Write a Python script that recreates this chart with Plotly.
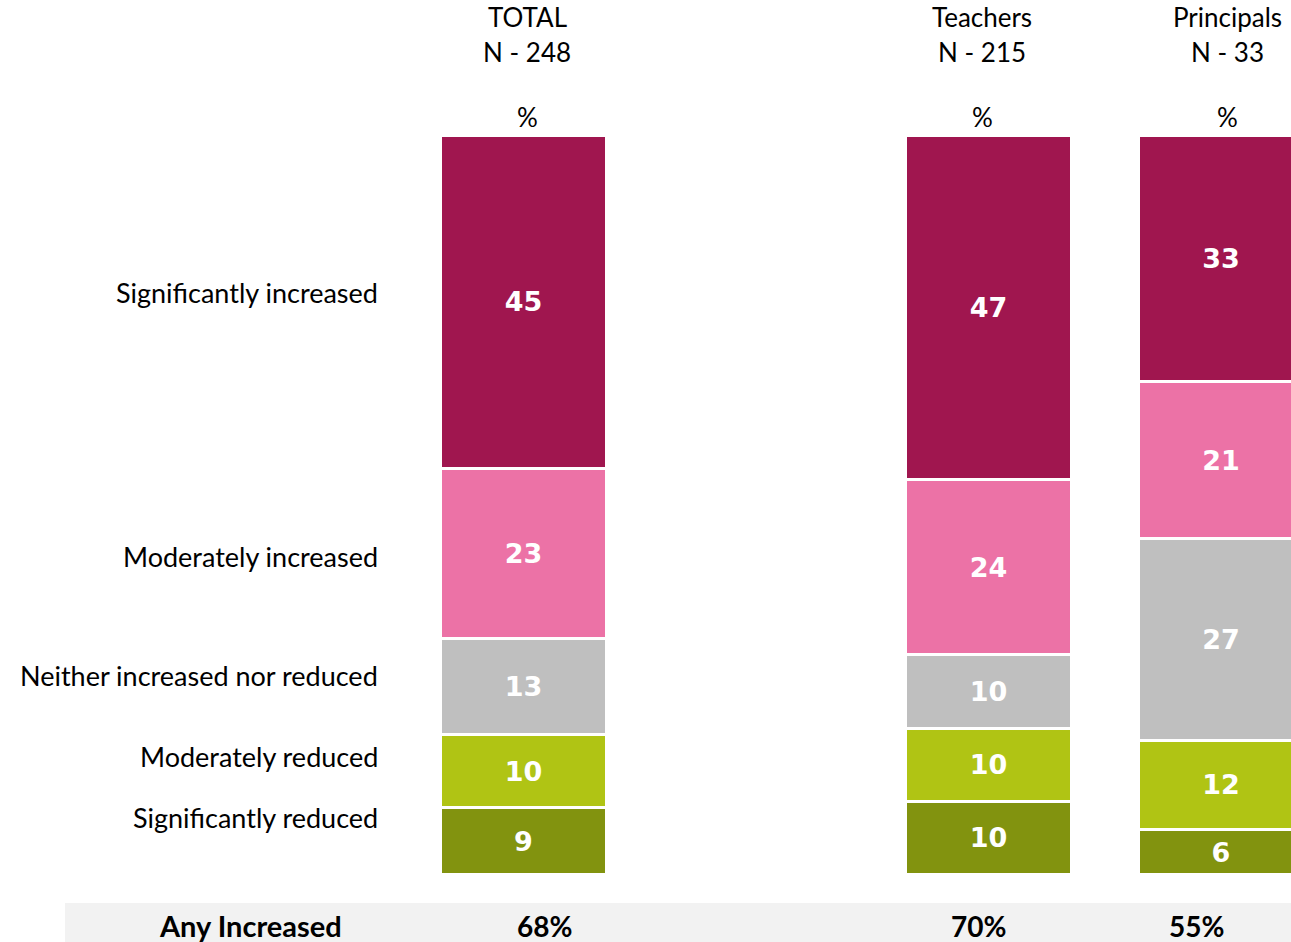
import plotly.graph_objects as go

# ---- data ----
groups = ["TOTAL", "Teachers", "Principals"]
group_n = ["N - 248", "N - 215", "N - 33"]
categories = ["Significantly reduced", "Moderately reduced", "Neither increased nor reduced",
              "Moderately increased", "Significantly increased"]
values = {
    "Significantly reduced": [9, 10, 6],
    "Moderately reduced": [10, 10, 12],
    "Neither increased nor reduced": [13, 10, 27],
    "Moderately increased": [23, 24, 21],
    "Significantly increased": [45, 47, 33],
}
any_increased = ["68%", "70%", "55%"]

# ---- style / layout ----
colors = {
    "Significantly reduced": "#82930F",
    "Moderately reduced": "#B0C414",
    "Neither increased nor reduced": "#BFBFBF",
    "Moderately increased": "#EC72A6",
    "Significantly increased": "#A0164F",
}
x_pos = [0, 2, 3]
W, H = 1291, 942
TOP, BOT = 137, 873

def px(x):
    return x / W

def py(y):
    return (BOT - y) / (BOT - TOP)

label_font = "Lato, Calibri, Carlito, sans-serif"
num_font = "DejaVu Sans, Verdana, sans-serif"

fig = go.Figure()
for cat in categories:
    fig.add_trace(go.Bar(
        x=x_pos, y=values[cat], name=cat,
        width=0.714,
        marker=dict(color=colors[cat], line=dict(color="white", width=3)),
        text=[str(v) for v in values[cat]],
        textposition="inside", insidetextanchor="middle",
        textfont=dict(color="white", size=27, family=num_font, weight="bold"),
        constraintext="none",
        hoverinfo="skip",
    ))

annotations = []
# left category labels
cat_label_y = {
    "Significantly increased": 292,
    "Moderately increased": 556,
    "Neither increased nor reduced": 675,
    "Moderately reduced": 756,
    "Significantly reduced": 817,
}
for cat in categories:
    annotations.append(dict(
        text=cat, xref="paper", yref="paper", x=px(380), y=py(cat_label_y[cat]),
        xanchor="right", yanchor="middle", showarrow=False,
        font=dict(family=label_font, size=27, color="black")))

# headers
header_x = [527, 982, 1227]
for g, n, hx in zip(groups, group_n, header_x):
    for txt, yy in ((g, 17), (n, 52), ("%", 117)):
        annotations.append(dict(
            text=txt, xref="paper", yref="paper", x=px(hx), y=py(yy),
            xanchor="center", yanchor="middle", showarrow=False,
            font=dict(family=label_font, size=26, color="black")))

# bottom row
annotations.append(dict(
    text="<b>Any Increased</b>", xref="paper", yref="paper", x=px(250), y=py(926),
    xanchor="center", yanchor="middle", showarrow=False,
    font=dict(family=label_font, size=29, color="black")))
for val, bx in zip(any_increased, [544, 978, 1196]):
    annotations.append(dict(
        text="<b>" + val + "</b>", xref="paper", yref="paper", x=px(bx), y=py(926),
        xanchor="center", yanchor="middle", showarrow=False,
        font=dict(family=label_font, size=28, color="black")))

fig.update_layout(
    width=W, height=H,
    margin=dict(l=0, r=0, t=TOP, b=H - BOT, pad=0),
    barmode="stack", barnorm="percent",
    showlegend=False,
    paper_bgcolor="white", plot_bgcolor="white",
    xaxis=dict(range=[-523.5 / 232.5, (W - 523.5) / 232.5], visible=False, fixedrange=True),
    yaxis=dict(range=[0.2, 99.8], visible=False, fixedrange=True),
    annotations=annotations,
    shapes=[dict(type="rect", xref="paper", yref="paper", x0=px(65), x1=1,
                 y0=py(903), y1=py(950), fillcolor="#F2F2F2", line=dict(width=0),
                 layer="below")],
)

fig.write_html("out.html", config={"displayModeBar": False})
